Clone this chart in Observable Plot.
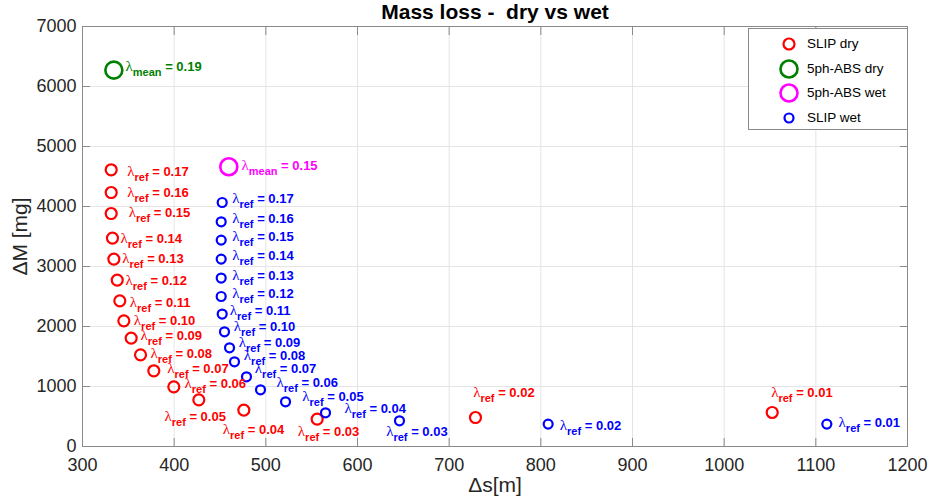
<!DOCTYPE html>
<html>
<head>
<meta charset="utf-8">
<script src="https://cdn.jsdelivr.net/npm/d3@7"></script>
<script src="https://cdn.jsdelivr.net/npm/@observablehq/plot@0.6"></script>
<style>
  body { margin: 0; background: #fff; font-family: "Liberation Sans", Arial, sans-serif; }
  #wrap { position: relative; width: 930px; height: 502px; }
  #legend { position: absolute; left: 748px; top: 28px; width: 160px; height: 102px;
            border: 1px solid #8a8a8a; background: #fff; box-sizing: border-box; }
  .row { position: absolute; left: 0; height: 24px; width: 158px; }
  .row svg { position: absolute; left: 29px; top: 0; }
  .row span { position: absolute; left: 58px; top: 4px; font-size: 13.5px; color: #000; white-space: nowrap; }
  svg text { white-space: pre; }
</style>
</head>
<body>
<div id="wrap"></div>
<script>
// ---- data ----
const xTicks = [300, 400, 500, 600, 700, 800, 900, 1000, 1100, 1200];
const yTicks = [0, 1000, 2000, 3000, 4000, 5000, 6000, 7000];

const lambdaRef = [0.17, 0.16, 0.15, 0.14, 0.13, 0.12, 0.11, 0.10, 0.09, 0.08, 0.07, 0.06, 0.05, 0.04, 0.03, 0.02, 0.01];

// SLIP dry (red)
const slipDryDs = [331.3, 331.3, 331.3, 332.7, 334.2, 337.9, 340.7, 345.1, 353.1, 363.3, 377.8, 399.6, 426.9, 476.0, 556.0, 728.7, 1052.4];
const slipDryDM = [4612, 4233, 3883, 3473, 3123, 2773, 2428, 2095, 1807, 1528, 1262, 995, 778, 607, 457, 483, 567];
// label anchor (data units, like MATLAB text())
const slipDryLabelDs = [348.8, 348.8, 350.5, 341.5, 343.3, 346.9, 351.6, 356.0, 363.3, 374.2, 392.4, 411.3, 389.4, 453.0, 534.9, 726.2, 1051.3];
const slipDryLabelDM = [4583, 4233, 3890, 3457, 3123, 2762, 2400, 2095, 1845, 1550, 1290, 1050, 500, 273, 250, 890, 900];

// SLIP wet (blue)
const slipWetDs = [452.4, 451.3, 451.3, 451.3, 451.3, 451.3, 452.4, 454.9, 460.4, 465.8, 478.9, 494.2, 521.5, 565.1, 645.8, 808.0, 1112.0];
const slipWetDM = [4067, 3745, 3440, 3123, 2807, 2500, 2207, 1912, 1645, 1412, 1162, 945, 745, 562, 428, 373, 373];
const slipWetLabelDs = [463.3, 463.3, 463.3, 463.3, 463.3, 463.3, 460.7, 465.0, 470.5, 476.0, 488.0, 511.6, 539.7, 585.8, 631.3, 820.7, 1124.8];
const slipWetLabelDM = [4133, 3800, 3495, 3178, 2845, 2540, 2262, 1995, 1733, 1512, 1290, 1067, 828, 623, 245, 345, 390];

// 5ph-ABS
const absDryDs = [334.2], absDryDM = [6273], absDryLambda = [0.19];
const absDryLabelDs = [346.9], absDryLabelDM = [6328];
const absWetDs = [459.6], absWetDM = [4662], absWetLambda = [0.15];
const absWetLabelDs = [473.4], absWetLabelDM = [4678];

const title = "Mass loss -  dry vs wet";
const xLabel = "Δs[m]";
const yLabel = "ΔM [mg]";
const legendItems = [
  {name: "SLIP dry", color: "#ff0000", r: 5.5, sw: 2.2},
  {name: "5ph-ABS dry", color: "#008000", r: 8.5, sw: 2.6},
  {name: "5ph-ABS wet", color: "#ff00ff", r: 8.5, sw: 2.6},
  {name: "SLIP wet", color: "#0000ff", r: 4.5, sw: 2.2}
];

// ---- tables ----
const fmt = d3.format(".2f");
const mk = (xs, ys, lx, ly, lam, sub) => xs.map((x, i) => ({x, y: ys[i], lx: lx[i], ly: ly[i], t: `λ|${sub}| = ${fmt(lam[i])}`}));
const red = mk(slipDryDs, slipDryDM, slipDryLabelDs, slipDryLabelDM, lambdaRef, "ref");
const blue = mk(slipWetDs, slipWetDM, slipWetLabelDs, slipWetLabelDM, lambdaRef, "ref");
const green = mk(absDryDs, absDryDM, absDryLabelDs, absDryLabelDM, absDryLambda, "mean");
const magenta = mk(absWetDs, absWetDM, absWetLabelDs, absWetLabelDM, absWetLambda, "mean");

const axisColor = "#8a8a8a";
const txt = (data, color) => Plot.text(data, {x: "lx", y: "ly", text: "t", fill: color, textAnchor: "start", lineAnchor: "middle", fontWeight: "bold", fontSize: 13});

const svg = Plot.plot({
  width: 930, height: 502,
  marginLeft: 82, marginRight: 23, marginTop: 26, marginBottom: 56,
  style: {fontFamily: "'Liberation Sans', Arial, sans-serif", fontSize: "18px", background: "#fff", overflow: "visible"},
  x: {domain: [300, 1200]},
  y: {domain: [0, 7000]},
  marks: [
    Plot.gridX(xTicks, {stroke: "#e4e4e4", strokeOpacity: 1}),
    Plot.gridY(yTicks, {stroke: "#e4e4e4", strokeOpacity: 1}),
    Plot.frame({stroke: axisColor}),
    Plot.axisX(xTicks, {anchor: "bottom", tickSize: 0, tickPadding: 12, fill: "#262626", label: null, tickFormat: d => String(d)}),
    Plot.axisX(xTicks, {anchor: "bottom", tickSize: -8, tickFormat: () => "", stroke: axisColor, label: null}),
    Plot.axisX(xTicks, {anchor: "top", tickSize: -8, tickFormat: () => "", stroke: axisColor, label: null}),
    Plot.axisY(yTicks, {anchor: "left", tickSize: 0, tickPadding: 6, fill: "#262626", label: null, tickFormat: d => String(d)}),
    Plot.axisY(yTicks, {anchor: "left", tickSize: -8, tickFormat: () => "", stroke: axisColor, label: null}),
    Plot.axisY(yTicks, {anchor: "right", tickSize: -8, tickFormat: () => "", stroke: axisColor, label: null}),
    Plot.dot(red, {x: "x", y: "y", r: 5.5, stroke: "#ff0000", strokeWidth: 2.2, fill: "none"}),
    Plot.dot(blue, {x: "x", y: "y", r: 4.5, stroke: "#0000ff", strokeWidth: 2.2, fill: "none"}),
    Plot.dot(green, {x: "x", y: "y", r: 8.5, stroke: "#008000", strokeWidth: 2.6, fill: "none"}),
    Plot.dot(magenta, {x: "x", y: "y", r: 8.5, stroke: "#ff00ff", strokeWidth: 2.6, fill: "none"}),
    txt(red, "#ff0000"),
    txt(blue, "#0000ff"),
    txt(green, "#008000"),
    txt(magenta, "#ff00ff"),
    Plot.text([title], {frameAnchor: "top", lineAnchor: "middle", dy: -14, fontSize: 21, fontWeight: "bold", fill: "#000"}),
    Plot.text([xLabel], {frameAnchor: "bottom", lineAnchor: "middle", dy: 39, fontSize: 21, fill: "#262626"}),
    Plot.text([yLabel], {frameAnchor: "left", textAnchor: "middle", lineAnchor: "middle", dx: -62, rotate: -90, fontSize: 21, fill: "#262626"})
  ]
});

// subscript formatting of the λ labels
d3.select(svg).selectAll("text").filter(function () { return this.textContent.includes("|"); }).each(function () {
  const parts = this.textContent.split("|");
  const t = d3.select(this);
  t.text(null);
  t.append("tspan").attr("font-family", "'Liberation Serif', 'DejaVu Serif', serif").attr("font-weight", "normal").attr("font-size", "15px").text(parts[0]);
  t.append("tspan").attr("font-size", "11px").attr("dy", "5").text(parts[1]);
  t.append("tspan").attr("dy", "-5").text(parts[2]);
});

const wrap = document.getElementById("wrap");
wrap.appendChild(svg);

// legend
const legend = document.createElement("div");
legend.id = "legend";
legendItems.forEach((it, i) => {
  const row = document.createElement("div");
  row.className = "row";
  row.style.top = (3 + i * 24.5) + "px";
  row.innerHTML = `<svg width="24" height="24"><circle cx="11" cy="12" r="${it.r}" fill="none" stroke="${it.color}" stroke-width="${it.sw}"/></svg><span>${it.name}</span>`;
  legend.appendChild(row);
});
wrap.appendChild(legend);
</script>
</body>
</html>
